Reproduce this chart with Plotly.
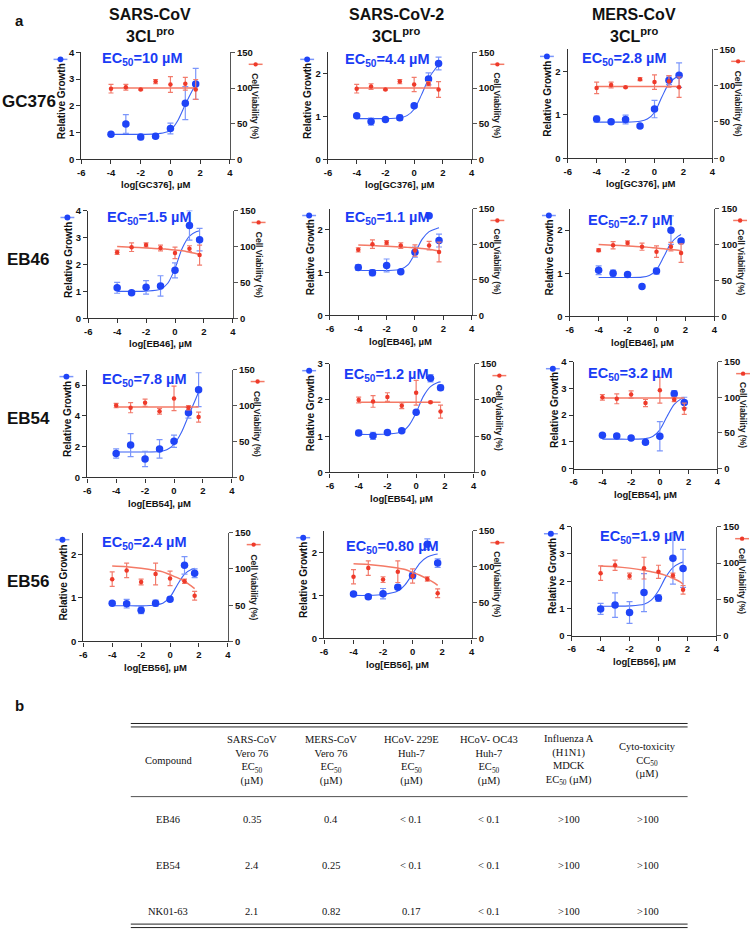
import plotly.graph_objects as go

W, H = 754, 938

# ---------------- data ----------------
doses = [-4, -3, -2, -1, 0, 1, 1.7]
fit_x = [-4, -3, -2, -1, -0.5, 0, 0.5, 1, 1.5, 1.7]

compounds = ["GC376", "EB46", "EB54", "EB56"]
viruses = ["SARS-CoV", "SARS-CoV-2", "MERS-CoV"]
ec50_labels = [["10", "4.4", "2.8"], ["1.5", "1.1", "2.7"],
               ["7.8", "1.2", "3.2"], ["2.4", "0.80", "1.9"]]
growth_ymax = [[4, 2.5, 2.5], [4, 2.5, 2.5], [7, 3, 4], [2.5, 2.5, 4]]
growth_dtick = [[1, 1, 1], [1, 1, 1], [2, 1, 1], [1, 1, 1]]
x_ticks = [-6, -4, -2, 0, 2, 4]
x_ticklabels = ["-6", "-4", "-2", "0", "2", "4"]

# GC376
growth_GC376 = [[0.93, 1.32, 0.83, 0.86, 1.15, 2.10, 2.82],
                [1.02, 0.88, 0.93, 0.97, 1.25, 1.88, 2.24],
                [0.90, 0.84, 0.89, 0.74, 1.13, 1.79, 1.91]]
growth_err_GC376 = [[0.07, 0.35, 0.10, 0.08, 0.20, 0.62, 0.58],
                    [0.03, 0.08, 0.02, 0.06, 0.03, 0.14, 0.15],
                    [0.07, 0.05, 0.10, 0.02, 0.20, 0.10, 0.28]]
viab_GC376 = [[99, 101, 98, 109, 105, 106, 98],
              [99, 102, 98, 109, 105, 106, 98],
              [97, 101, 98, 109, 105, 106, 98]]
viab_err_GC376 = [[6, 4, 1, 3, 11, 9, 14],
                  [6, 4, 1, 3, 10, 3, 11],
                  [8, 4, 1, 2, 10, 8, 14]]
fit_growth_GC376 = [[0.93, 0.93, 0.93, 0.95, 0.98, 1.08, 1.45, 2.05, 2.60, 2.80],
                    [0.95, 0.95, 0.95, 0.97, 1.02, 1.17, 1.50, 1.88, 2.13, 2.20],
                    [0.83, 0.83, 0.83, 0.85, 0.90, 1.05, 1.40, 1.72, 1.86, 1.90]]
fit_viab_GC376 = [[100, 100, 100, 100, 100, 100, 100, 100, 100, 100],
                  [100, 100, 100, 100, 100, 100, 100, 100, 100, 100],
                  [99, 99, 99, 99, 99, 99, 99, 99, 99, 99]]

# EB46
growth_EB46 = [[1.13, 0.95, 1.15, 1.20, 1.78, 3.45, 2.92],
               [1.12, 1.00, 1.17, 1.02, 1.48, 2.33, 1.75],
               [1.07, 1.00, 0.97, 0.69, 1.05, 2.00, 1.75]]
growth_err_EB46 = [[0.20, 0.03, 0.25, 0.38, 0.28, 0.55, 0.42],
                   [0.07, 0.07, 0.15, 0.02, 0.12, 0.02, 0.15],
                   [0.10, 0.07, 0.03, 0.02, 0.07, 0.33, 0.05]]
viab_EB46 = [[92, 99, 102, 98, 91, 97, 88],
             [92, 100, 102, 98, 91, 98, 89],
             [92, 99, 102, 97, 90, 97, 88]]
viab_err_EB46 = [[3, 6, 3, 4, 8, 4, 14],
                 [3, 6, 3, 4, 8, 6, 14],
                 [2, 5, 3, 5, 8, 6, 13]]
fit_growth_EB46 = [[1.00, 1.00, 1.01, 1.08, 1.30, 1.85, 2.60, 3.05, 3.22, 3.25],
                   [1.05, 1.05, 1.05, 1.08, 1.18, 1.45, 1.78, 1.96, 2.03, 2.05],
                   [0.90, 0.90, 0.90, 0.91, 0.95, 1.08, 1.38, 1.70, 1.86, 1.90]]
fit_viab_EB46 = [[100, 99, 98, 97, 96, 95, 94, 92, 90, 89],
                 [99, 98, 97, 96, 95.5, 95, 94, 93, 91, 90],
                 [100, 99, 98, 97, 96, 95, 94, 93, 92, 91]]

# EB54
growth_EB54 = [[1.55, 2.10, 1.20, 1.85, 2.35, 4.20, 5.70],
               [1.09, 1.01, 1.10, 1.15, 1.66, 2.60, 2.34],
               [1.25, 1.22, 1.14, 0.98, 1.21, 2.80, 2.47]]
growth_err_EB54 = [[0.30, 0.75, 0.50, 0.60, 0.40, 0.35, 1.10],
                   [0.07, 0.10, 0.02, 0.03, 0.02, 0.10, 0.07],
                   [0.03, 0.06, 0.03, 0.07, 0.55, 0.12, 0.20]]
viab_EB54 = [[100, 97, 104, 92, 110, 97, 84],
             [100, 98, 104, 92, 110, 97, 84],
             [100, 98, 104, 92, 110, 97, 84]]
viab_err_EB54 = [[3, 7, 5, 4, 17, 3, 7],
                 [4, 8, 6, 4, 17, 1, 9],
                 [4, 7, 5, 5, 18, 3, 8]]
fit_growth_EB54 = [[1.65, 1.65, 1.65, 1.68, 1.80, 2.15, 2.90, 4.00, 5.10, 5.55],
                   [1.05, 1.05, 1.06, 1.12, 1.30, 1.65, 2.10, 2.37, 2.48, 2.50],
                   [1.10, 1.10, 1.10, 1.12, 1.20, 1.45, 1.95, 2.40, 2.62, 2.67]]
fit_viab_EB54 = [[98, 98, 98, 98, 98, 98, 98, 98, 98, 98],
                 [97, 97, 97, 97, 97, 97, 97, 97, 97, 97],
                 [99, 99, 99, 99, 99, 99, 99, 99, 99, 99]]

# EB56
growth_EB56 = [[0.88, 0.87, 0.72, 0.88, 0.97, 1.75, 1.57],
               [1.03, 0.97, 1.04, 1.19, 1.46, 2.19, 1.75],
               [0.98, 1.12, 0.85, 1.58, 1.38, 2.84, 2.47]]
growth_err_EB56 = [[0.03, 0.10, 0.08, 0.07, 0.05, 0.20, 0.10],
                   [0.02, 0.05, 0.12, 0.05, 0.07, 0.12, 0.10],
                   [0.20, 0.45, 0.40, 0.70, 0.12, 0.95, 0.70]]
viab_EB56 = [[86, 98, 82, 93, 87, 83, 63],
             [86, 98, 82, 93, 87, 83, 63],
             [86, 97, 82, 93, 88, 83, 63]]
viab_err_EB56 = [[10, 10, 4, 15, 10, 3, 6],
                 [10, 10, 4, 15, 10, 3, 6],
                 [10, 7, 4, 15, 9, 3, 6]]
fit_growth_EB56 = [[0.82, 0.82, 0.82, 0.84, 0.88, 1.02, 1.30, 1.55, 1.66, 1.68],
                   [1.00, 1.00, 1.02, 1.10, 1.25, 1.50, 1.75, 1.89, 1.95, 1.96],
                   [1.08, 1.08, 1.09, 1.15, 1.30, 1.65, 2.15, 2.50, 2.67, 2.70]]
fit_viab_EB56 = [[104, 103, 101, 98, 96, 92, 88, 83, 76, 73],
                 [104, 103, 101, 98, 96, 92, 88, 83, 77, 74],
                 [96, 95, 93, 90, 88, 86, 83, 79, 74, 71]]

growth_all = [growth_GC376, growth_EB46, growth_EB54, growth_EB56]
growth_err_all = [growth_err_GC376, growth_err_EB46, growth_err_EB54, growth_err_EB56]
viab_all = [viab_GC376, viab_EB46, viab_EB54, viab_EB56]
viab_err_all = [viab_err_GC376, viab_err_EB46, viab_err_EB54, viab_err_EB56]
fit_growth_all = [fit_growth_GC376, fit_growth_EB46, fit_growth_EB54, fit_growth_EB56]
fit_viab_all = [fit_viab_GC376, fit_viab_EB46, fit_viab_EB54, fit_viab_EB56]

# table b
table_headers = ["Compound",
                 "SARS-CoV<br>Vero 76<br>EC<sub>50</sub><br>(µM)",
                 "MERS-CoV<br>Vero 76<br>EC<sub>50</sub><br>(µM)",
                 "HCoV- 229E<br>Huh-7<br>EC<sub>50</sub><br>(µM)",
                 "HCoV- OC43<br>Huh-7<br>EC<sub>50</sub><br>(µM)",
                 "Influenza A<br>(H1N1)<br>MDCK<br>EC<sub>50</sub> (µM)",
                 "Cyto-toxicity<br>CC<sub>50</sub><br>(µM)"]
table_compounds = ["EB46", "EB54", "NK01-63"]
table_sars = ["0.35", "2.4", "2.1"]
table_mers = ["0.4", "0.25", "0.82"]
table_229e = ["< 0.1", "< 0.1", "0.17"]
table_oc43 = ["< 0.1", "< 0.1", "< 0.1"]
table_flu = [">100", ">100", ">100"]
table_cc50 = [">100", ">100", ">100"]

# ---------------- layout helpers ----------------
SANS = "Liberation Sans, Arial, sans-serif"
SERIF = "Liberation Serif, Times New Roman, serif"
BLUE = "#1f44f7"
BLUE_ERR = "#7b96fb"
BLUE_LINE = "#3b62f5"
RED = "#ee3a2a"
RED_ERR = "#f27b6c"
RED_LINE = "#f47a66"
AX = "#333333"


def px(x):
    return x / W


def py(y):
    return 1 - y / H


boxes = [
    [(78, 228, 47, 155), (327, 472, 47, 155), (569, 715, 44, 154)],
    [(85, 231, 207, 316), (329, 472, 205, 313), (571, 717, 205, 314)],
    [(84, 230, 368, 477), (329, 474, 362, 472), (575, 720, 360, 468)],
    [(80, 226, 533, 643), (323, 472, 531, 640), (573, 719, 527, 637)],
]
ec50_pos = [
    [(97, 54), (342, 55), (581, 54)],
    [(102, 215), (342, 215), (587, 218)],
    [(97, 378), (341, 373), (587, 372)],
    [(97, 543), (343, 547), (600, 537)],
]

fig = go.Figure()
layout = dict(width=W, height=H, margin=dict(l=0, r=0, t=0, b=0),
              paper_bgcolor="white", plot_bgcolor="white", showlegend=False,
              font=dict(family=SANS, color="#111"))
annotations = []
shapes = []

axis_common = dict(showline=True, linecolor=AX, linewidth=1.3, ticks="outside",
                   ticklen=4, tickwidth=1.3, tickcolor=AX, showgrid=False,
                   zeroline=False, fixedrange=True,
                   tickfont=dict(family=SANS, size=9.5, color="#111", weight="bold"))

n = 0
for r in range(4):
    for c in range(3):
        n += 1
        L, R, T, B = boxes[r][c]
        xid = "x" if n == 1 else f"x{n}"
        yl = f"y{2 * n - 1}" if n > 1 else "y"
        yr = f"y{2 * n}"
        xkey = "xaxis" if n == 1 else f"xaxis{n}"
        ylkey = "yaxis" if n == 1 else f"yaxis{2 * n - 1}"
        yrkey = f"yaxis{2 * n}"
        layout[xkey] = dict(axis_common, domain=[px(L), px(R)], anchor=yl,
                            range=[-6, 4], tickvals=x_ticks, ticktext=x_ticklabels)
        layout[ylkey] = dict(axis_common, domain=[py(B), py(T)], anchor=xid,
                             range=[0, growth_ymax[r][c]], dtick=growth_dtick[r][c],
                             tick0=0)
        layout[yrkey] = dict(axis_common, domain=[py(B), py(T)], anchor=xid,
                             overlaying=yl, side="right", range=[0, 150],
                             dtick=50, tick0=0, linecolor="#555", tickcolor="#555")

        # fits
        fig.add_trace(go.Scatter(x=fit_x, y=fit_viab_all[r][c], xaxis=xid, yaxis=yr,
                                 mode="lines", line=dict(color=RED_LINE, width=1.5,
                                                         shape="spline"),
                                 hoverinfo="skip"))
        fig.add_trace(go.Scatter(x=doses, y=viab_all[r][c], xaxis=xid, yaxis=yr,
                                 mode="markers",
                                 marker=dict(color=RED, size=4.5, symbol="circle"),
                                 error_y=dict(type="data", array=viab_err_all[r][c],
                                              color=RED_ERR, thickness=1.2, width=2.5)))
        fig.add_trace(go.Scatter(x=fit_x, y=fit_growth_all[r][c], xaxis=xid, yaxis=yl,
                                 mode="lines", line=dict(color=BLUE_LINE, width=1.1,
                                                         shape="spline", smoothing=0.8),
                                 hoverinfo="skip"))
        fig.add_trace(go.Scatter(x=doses, y=growth_all[r][c], xaxis=xid, yaxis=yl,
                                 mode="markers",
                                 marker=dict(color=BLUE, size=7.5, symbol="circle"),
                                 error_y=dict(type="data", array=growth_err_all[r][c],
                                              color=BLUE_ERR, thickness=1.2, width=3)))

        # EC50 label
        ex, ey = ec50_pos[r][c]
        annotations.append(dict(x=px(ex), y=py(ey), xref="paper", yref="paper",
                                xanchor="left", yanchor="middle", showarrow=False,
                                text=f"<b>EC<sub>50</sub>=" + ec50_labels[r][c] + " µM</b>",
                                font=dict(family=SANS, size=14.5, color="#1a3cf5")))
        # axis titles
        mid = (T + B) / 2
        annotations.append(dict(x=px(L - 20), y=py(mid - 5), xref="paper", yref="paper",
                                xanchor="center", yanchor="middle", showarrow=False,
                                textangle=-90, text="<b>Relative Growth</b>",
                                font=dict(family=SANS, size=10, color="#111")))
        annotations.append(dict(x=px(R + 26), y=py(mid), xref="paper", yref="paper",
                                xanchor="center", yanchor="middle", showarrow=False,
                                textangle=90, text="<b>Cell Viability (%)</b>",
                                font=dict(family=SANS, size=8.5, color="#222")))
        annotations.append(dict(x=px((L + R) / 2), y=py(B + 26), xref="paper", yref="paper",
                                xanchor="center", yanchor="middle", showarrow=False,
                                text=f"<b>log[{compounds[r]}], µM</b>",
                                font=dict(family=SANS, size=9.5, color="#111")))
        # legend symbols
        bx, by = L - 21, T + 7
        shapes.append(dict(type="line", xref="paper", yref="paper",
                           x0=px(bx - 7), x1=px(bx + 7), y0=py(by), y1=py(by),
                           line=dict(color=BLUE_ERR, width=1.5)))
        shapes.append(dict(type="circle", xref="paper", yref="paper",
                           x0=px(bx - 3), x1=px(bx + 3), y0=py(by - 3), y1=py(by + 3),
                           fillcolor=BLUE, line=dict(color=BLUE, width=0)))
        rx, ry = R + 26, T + 12
        shapes.append(dict(type="line", xref="paper", yref="paper",
                           x0=px(rx - 7), x1=px(rx + 7), y0=py(ry), y1=py(ry),
                           line=dict(color=RED_LINE, width=1.5)))
        shapes.append(dict(type="circle", xref="paper", yref="paper",
                           x0=px(rx - 2.2), x1=px(rx + 2.2), y0=py(ry - 2.2), y1=py(ry + 2.2),
                           fillcolor=RED, line=dict(color=RED, width=0)))

# column titles
col_centers = [147, 396, 636]
for c in range(3):
    annotations.append(dict(x=px(col_centers[c]), y=py(9), xref="paper", yref="paper",
                            xanchor="center", yanchor="middle", showarrow=False,
                            text=f"<b>{viruses[c]}</b>",
                            font=dict(family=SANS, size=16, color="#111")))
    annotations.append(dict(x=px(col_centers[c]), y=py(29), xref="paper", yref="paper",
                            xanchor="center", yanchor="middle", showarrow=False,
                            text="<b>3CL<sup>pro</sup></b>",
                            font=dict(family=SANS, size=16, color="#111")))
# row labels
row_y = [97, 257, 417, 582]
for r in range(4):
    annotations.append(dict(x=px(25), y=py(row_y[r]), xref="paper", yref="paper",
                            xanchor="center", yanchor="middle", showarrow=False,
                            text=f"<b>{compounds[r]}</b>",
                            font=dict(family=SANS, size=17, color="#111")))
# panel letters
annotations.append(dict(x=px(16), y=py(15), xref="paper", yref="paper", xanchor="center",
                        yanchor="middle", showarrow=False, text="<b>a</b>",
                        font=dict(family=SANS, size=15, color="#111")))
annotations.append(dict(x=px(16), y=py(708), xref="paper", yref="paper", xanchor="center",
                        yanchor="middle", showarrow=False, text="<b>b</b>",
                        font=dict(family=SANS, size=15, color="#111")))

# table
tx = [166, 250, 330, 411, 490, 570, 650]
for i, h in enumerate(table_headers):
    annotations.append(dict(x=px(tx[i]), y=py(763), xref="paper", yref="paper",
                            xanchor="center", yanchor="middle", showarrow=False,
                            text=h, align="center",
                            font=dict(family=SERIF, size=10.5, color="#111")))
cols = [table_compounds, table_sars, table_mers, table_229e, table_oc43, table_flu, table_cc50]
row_ys = [823, 870, 916]
for j in range(3):
    for i, col in enumerate(cols):
        annotations.append(dict(x=px(tx[i]), y=py(row_ys[j]), xref="paper", yref="paper",
                                xanchor="center", yanchor="middle", showarrow=False,
                                text=col[j],
                                font=dict(family=SERIF, size=10.5, color="#111")))
for yy, wdt in [(726, 1), (729.5, 1), (800, 0.8), (929, 1), (932.5, 1)]:
    shapes.append(dict(type="line", xref="paper", yref="paper", x0=px(128), x1=px(690),
                       y0=py(yy), y1=py(yy), line=dict(color="#222", width=wdt)))

layout["annotations"] = annotations
layout["shapes"] = shapes
fig.update_layout(**layout)

fig.write_html("out.html", post_script="document.body.style.margin='0';",
               config={"displayModeBar": False})
